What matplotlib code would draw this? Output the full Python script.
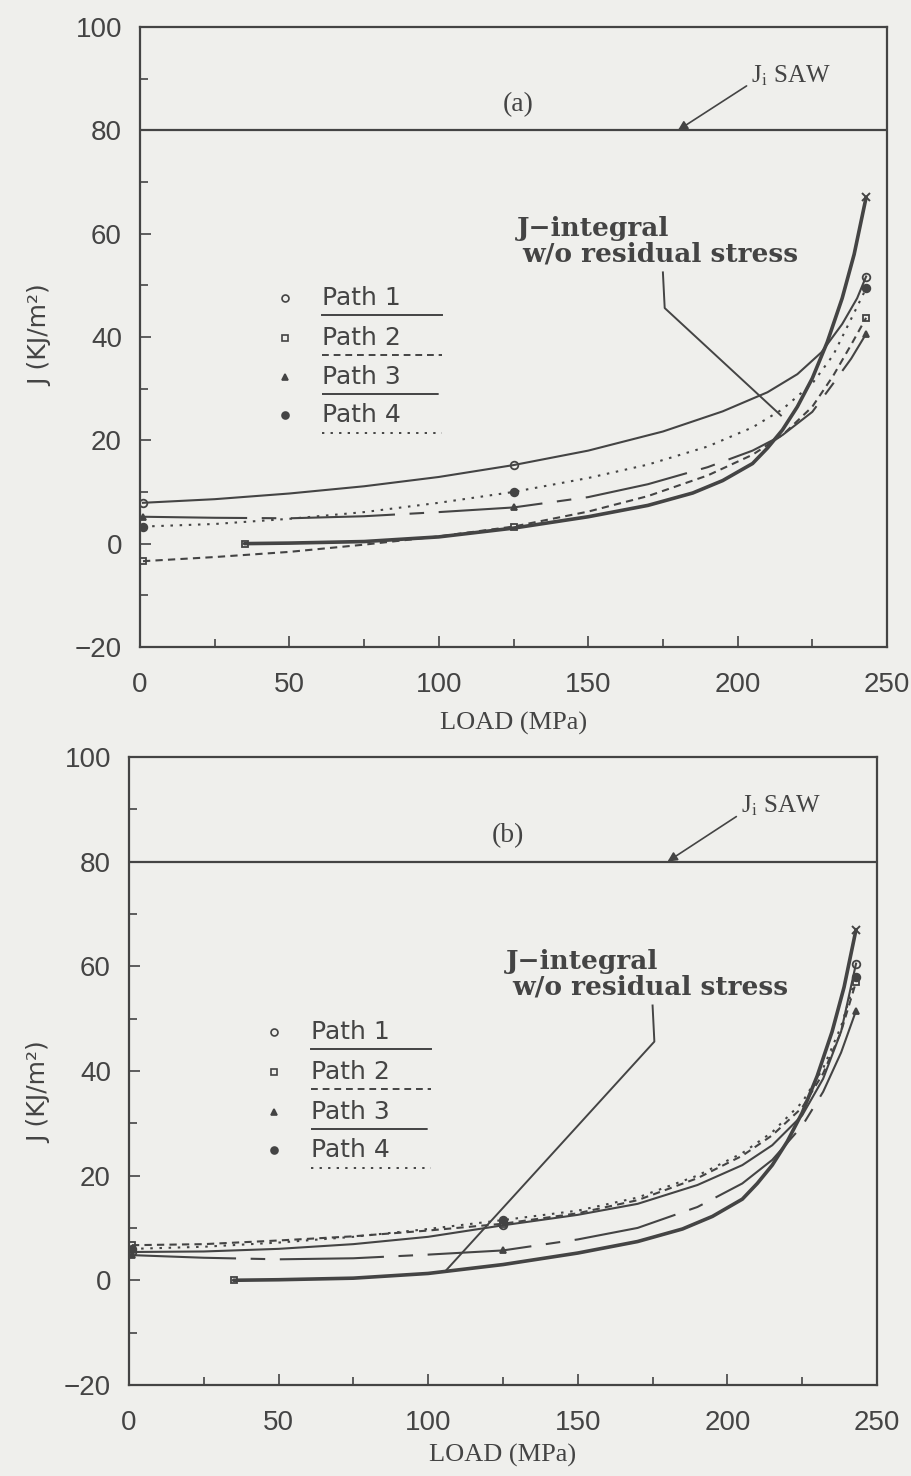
import numpy as np
import matplotlib
matplotlib.use("Agg")
import matplotlib.pyplot as plt
from matplotlib.ticker import MultipleLocator

plt.rcParams["mathtext.fontset"] = "stix"

# ---------------- data ----------------
# J-integral without residual stress (same curve in both panels)
load_nores = [35, 50, 75, 100, 125, 150, 170, 185, 195, 205, 210, 215, 220, 225, 230, 235, 239, 243]
j_nores = [0.0, 0.1, 0.4, 1.3, 3.0, 5.2, 7.4, 9.8, 12.2, 15.5, 18.5, 22.0, 26.5, 32.0, 39.0, 47.5, 56.0, 67.0]

marker_loads = [1, 125, 243]

# panel (a): with residual stress
load_a1 = [1, 25, 50, 75, 100, 125, 150, 175, 195, 210, 220, 228, 235, 240, 243]
j_a1 = [7.9, 8.6, 9.7, 11.1, 12.9, 15.2, 18.0, 21.7, 25.6, 29.3, 32.8, 37.0, 42.5, 47.5, 51.7]
load_a2 = [1, 25, 50, 75, 100, 125, 150, 170, 190, 205, 215, 225, 232, 238, 243]
j_a2 = [-3.4, -2.6, -1.6, -0.2, 1.4, 3.3, 6.2, 9.2, 13.2, 17.2, 21.0, 26.5, 32.5, 38.5, 43.7]
load_a3 = [1, 25, 50, 75, 100, 125, 150, 170, 190, 205, 215, 225, 232, 238, 243]
j_a3 = [5.2, 5.0, 4.9, 5.3, 6.1, 7.0, 9.0, 11.5, 14.8, 18.0, 21.0, 25.5, 31.0, 35.8, 40.6]
load_a4 = [1, 25, 50, 75, 100, 125, 150, 170, 190, 205, 215, 225, 232, 238, 243]
j_a4 = [3.3, 3.8, 4.8, 6.1, 7.9, 10.0, 12.7, 15.3, 18.8, 22.5, 26.0, 31.0, 36.5, 43.5, 49.4]

# panel (b)
load_b1 = [1, 25, 50, 75, 100, 125, 150, 170, 190, 205, 215, 225, 232, 238, 243]
j_b1 = [5.4, 5.5, 6.0, 6.9, 8.3, 10.5, 12.5, 14.6, 18.2, 22.0, 25.8, 31.5, 38.5, 47.5, 60.5]
load_b2 = [1, 25, 50, 75, 100, 125, 150, 170, 190, 205, 215, 225, 232, 238, 243]
j_b2 = [6.7, 6.9, 7.6, 8.4, 9.5, 10.8, 12.8, 15.3, 19.5, 23.8, 27.7, 33.0, 39.5, 47.5, 57.0]
load_b3 = [1, 25, 50, 75, 100, 125, 150, 170, 190, 205, 215, 225, 232, 238, 243]
j_b3 = [4.8, 4.3, 4.0, 4.2, 4.9, 5.7, 7.8, 10.0, 14.0, 18.5, 23.0, 29.5, 36.0, 43.5, 51.5]
load_b4 = [1, 25, 50, 75, 100, 125, 150, 170, 190, 205, 215, 225, 232, 238, 243]
j_b4 = [6.0, 6.4, 7.2, 8.3, 9.8, 11.5, 13.3, 15.8, 20.0, 24.3, 28.3, 34.0, 40.5, 48.5, 58.0]

path_labels = ["Path 1", "Path 2", "Path 3", "Path 4"]
saw_level = 80

INK = "#444444"
BG = "#efefec"

styles = [
    dict(ls="-", dashes=None, marker="o", mfc="none", ms=5.5),
    dict(ls="--", dashes=(3.5, 2.5), marker="s", mfc="none", ms=5),
    dict(ls="--", dashes=(50, 7, 7, 7), marker="^", mfc=INK, ms=5),
    dict(ls=":", dashes=(1.2, 3.2), marker="o", mfc=INK, ms=5.5),
]

fig = plt.figure(figsize=(9.12, 14.76), dpi=100, facecolor=BG)

ax_a = fig.add_axes([0.1535, 0.5617, 0.8191, 0.4200])
ax_b = fig.add_axes([0.1414, 0.0617, 0.8202, 0.4255])

panels = [
    (ax_a, [(load_a1, j_a1), (load_a2, j_a2), (load_a3, j_a3), (load_a4, j_a4)],
     "(a)", (214.5, 24.8), -0.118, 0.503, 10),
    (ax_b, [(load_b1, j_b1), (load_b2, j_b2), (load_b3, j_b3), (load_b4, j_b4)],
     "(b)", (106.0, 1.9), -0.104, 0.466, 6),
]

for ax, curves, tag, lead_end, ylx, yly, xlpad in panels:
    ax.set_facecolor(BG)
    ax.set_xlim(0, 250)
    ax.set_ylim(-20, 100)

    for (xs, ys), st in zip(curves, styles):
        xs = np.asarray(xs)
        ys = np.asarray(ys)
        line, = ax.plot(xs, ys, color=INK, lw=1.5, ls=st["ls"])
        if st["dashes"] is not None:
            line.set_dashes(st["dashes"])
        sel = np.isin(xs, marker_loads)
        ax.plot(xs[sel], ys[sel], ls="none", marker=st["marker"], ms=st["ms"],
                mfc=st["mfc"], mec=INK, mew=1.3)

    # J-integral without residual stress
    ax.plot(load_nores, j_nores, color=INK, lw=2.6, solid_capstyle="round",
            solid_joinstyle="round")
    ax.plot(load_nores[0], j_nores[0], ls="none", marker="s", ms=5,
            mfc="none", mec=INK, mew=1.3)
    ax.plot(load_nores[-1], j_nores[-1], ls="none", marker="x", ms=6,
            mec=INK, mew=1.4)

    # J_i of submerged arc weld
    ax.axhline(saw_level, color=INK, lw=1.6)
    ax.annotate("", xy=(180, saw_level), xytext=(203, 88.6),
                arrowprops=dict(arrowstyle="-|>", color=INK, lw=1.2,
                                mutation_scale=14, shrinkA=0, shrinkB=0))
    ax.text(204.5, 90.6, r"J$_{\rm i}$ SAW", fontsize=18, color=INK,
            family="Liberation Serif", va="center", ha="left")

    ax.text(126.5, 85.0, tag, fontsize=20, color=INK, family="Liberation Serif",
            ha="center", va="center")

    # leader to the no-residual-stress curve
    ax.text(126.0, 61.0, "J\u2212integral", fontsize=19, color=INK,
            family="DejaVu Serif", weight="bold", ha="left", va="center")
    ax.text(128.0, 56.0, "w/o residual stress", fontsize=19, color=INK,
            family="DejaVu Serif", weight="bold", ha="left", va="center")
    ax.plot([175.0, 175.6, lead_end[0]], [52.5, 45.6, lead_end[1]],
            color=INK, lw=1.4)

    # legend: marker, label, underline drawn in the line style
    row_y = [47.5, 39.8, 32.2, 24.8]
    for k, (lab, st) in enumerate(zip(path_labels, styles)):
        yk = row_y[k]
        ax.plot(48.5, yk, ls="none", marker=st["marker"], ms=st["ms"] - 0.5,
                mfc=st["mfc"], mec=INK, mew=1.2)
        ax.text(60.8, yk, lab, fontsize=18, color=INK, family="DejaVu Sans",
                ha="left", va="center")
        ul, = ax.plot([60.8, 101.0], [yk - 3.3, yk - 3.3], color=INK, lw=1.4,
                      ls=st["ls"])
        if st["dashes"] is not None:
            ul.set_dashes(st["dashes"] if k != 2 else (60, 4))

    # axes, ticks, labels
    for sp in ax.spines.values():
        sp.set_color(INK)
        sp.set_linewidth(1.6)
    ax.xaxis.set_major_locator(MultipleLocator(50))
    ax.xaxis.set_minor_locator(MultipleLocator(25))
    ax.yaxis.set_major_locator(MultipleLocator(20))
    ax.yaxis.set_minor_locator(MultipleLocator(10))
    ax.tick_params(which="both", direction="in", top=False, right=False,
                   colors=INK, width=1.2)
    ax.tick_params(which="major", length=8)
    ax.tick_params(which="minor", length=6)
    ax.tick_params(axis="x", which="major", pad=18, labelsize=20)
    ax.tick_params(axis="y", which="major", pad=13, labelsize=20)
    for lbl in ax.get_xticklabels() + ax.get_yticklabels():
        lbl.set_family("Liberation Sans")
        lbl.set_color(INK)

    ax.set_xlabel("LOAD (MPa)", fontsize=19, family="Liberation Serif",
                  color=INK, labelpad=xlpad)
    ax.set_ylabel("J (KJ/m²)", fontsize=18, family="DejaVu Sans", color=INK)
    ax.yaxis.set_label_coords(ylx, yly)

fig.savefig("out.png", dpi=100, facecolor=BG)
